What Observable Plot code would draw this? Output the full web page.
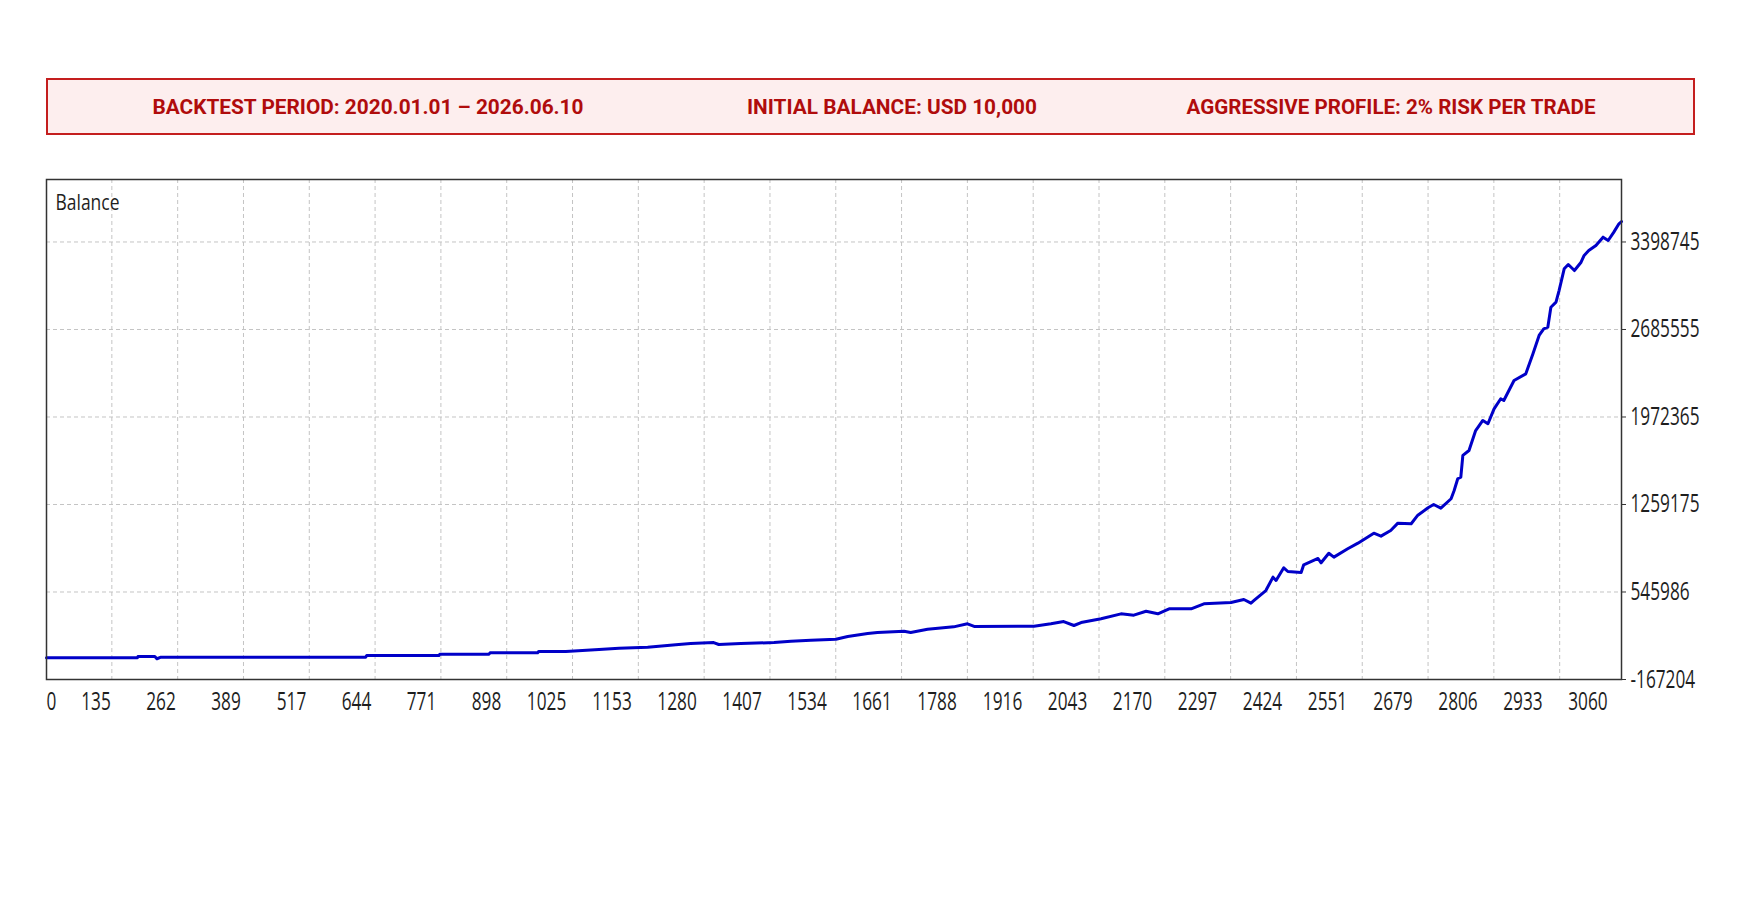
<!DOCTYPE html>
<html><head><meta charset="utf-8">
<script src="https://cdn.jsdelivr.net/npm/d3@7"></script>
<script src="https://cdn.jsdelivr.net/npm/@observablehq/plot@0.6"></script>
<style>
html,body{margin:0;padding:0;background:#fff;width:1747px;height:900px;overflow:hidden;}
#info{position:absolute;left:46px;top:78px;width:1649px;height:57px;box-sizing:border-box;border:2px solid #c41e1e;background:#fdeeee;}
#info span{position:absolute;top:50%;font-family:Roboto,sans-serif;font-weight:700;font-size:20px;color:#b00c0c;white-space:nowrap;transform-origin:center center;}
#chart{position:absolute;left:0;top:150px;}
</style></head><body>
<div id="info"></div>
<div id="chart"></div>
<script>
// Header texts
const headerTexts = ["BACKTEST PERIOD: 2020.01.01 \u2013 2026.06.10", "INITIAL BALANCE: USD 10,000", "AGGRESSIVE PROFILE: 2% RISK PER TRADE"];

// Balance curve: trade number and balance
const trades = [0,187,188,221,225,233,633,635,776,778,874,876,969,971,1024,1089,1128,1184,1239,1268,1313,1323,1366,1431,1464,1503,1552,1575,1614,1633,1685,1698,1731,1782,1809,1822,1939,1972,1997,2017,2031,2070,2109,2134,2158,2181,2203,2246,2271,2324,2349,2363,2369,2392,2406,2412,2427,2435,2461,2466,2494,2500,2515,2525,2552,2572,2603,2617,2636,2650,2676,2689,2709,2720,2734,2754,2760,2767,2773,2777,2789,2802,2816,2826,2838,2851,2857,2877,2900,2914,2926,2935,2943,2949,2959,2965,2975,2983,2995,3008,3014,3023,3037,3051,3061,3072,3082,3087];
const balances = [10000,10000,20000,20000,2000,15000,15000,28000,28000,39000,39000,50000,50000,61000,61000,77000,88000,96000,116000,126000,134000,118000,126000,134000,145000,153000,161000,183000,208000,216000,226000,216000,243000,262000,287000,265000,267000,287000,305000,273000,297000,328000,368000,357000,389000,368000,409000,409000,450000,460000,485000,455000,477000,558000,667000,640000,743000,713000,705000,768000,819000,784000,862000,830000,898000,944000,1025000,1001000,1047000,1107000,1102000,1172000,1232000,1259000,1229000,1306000,1373000,1469000,1482000,1659000,1699000,1862000,1944000,1917000,2039000,2121000,2107000,2270000,2324000,2487000,2637000,2691000,2704000,2867000,2908000,3003000,3180000,3215000,3166000,3234000,3289000,3329000,3370000,3438000,3411000,3479000,3547000,3565000];

// Axis ticks
const xTicks = [0,135,262,389,517,644,771,898,1025,1153,1280,1407,1534,1661,1788,1916,2043,2170,2297,2424,2551,2679,2806,2933,3060];
const yTicks = [-167204,545986,1259175,1972365,2685555,3398745];
const xDomain = [9.3, 3087];
const yDomain = [-167204, 3908000];
const gridX = d3.range(137, 3087, 128.6);
const panelLabel = "Balance";

// Header
const info = document.getElementById("info");
const headerCenters = [320, 844, 1343];
const headerWidths = [431, 290, 409];
headerTexts.forEach((t, i) => {
  const s = document.createElement("span");
  s.textContent = t;
  s.style.left = headerCenters[i] + "px";
  info.appendChild(s);
  const w = s.getBoundingClientRect().width;
  const k = w > 50 ? headerWidths[i] / w : 1;
  s.style.transform = `translate(-50%,-50%) scaleX(${k})`;
});

const data = trades.map((t, i) => ({trade: t, balance: balances[i]}));

const plot = Plot.plot({
  width: 1747, height: 600,
  marginTop: 29, marginBottom: 71, marginLeft: 46, marginRight: 126,
  style: {fontFamily: "'Open Sans', sans-serif", fontSize: "25px", color: "#1e1e1e", background: "transparent", overflow: "visible"},
  x: {domain: xDomain, clamp: true, axis: null, label: null},
  y: {domain: yDomain, axis: null, label: null},
  marks: [
    Plot.gridX(gridX, {stroke: "#c4c4c4", strokeOpacity: 1, strokeWidth: 1, strokeDasharray: "4,3"}),
    Plot.gridY(yTicks, {stroke: "#c4c4c4", strokeOpacity: 1, strokeWidth: 1, strokeDasharray: "4,3"}),
    Plot.line(data, {x: "trade", y: "balance", stroke: "#0000c8", strokeWidth: 3, strokeLinejoin: "round"}),
    Plot.frame({stroke: "#333", strokeWidth: 1.5}),
    Plot.axisY(yTicks, {anchor: "right", tickSize: 4, tickPadding: 5, tickFormat: d => String(d), stroke: "#333", label: null}),
    Plot.text(xTicks.slice(1), {x: d => d, text: d => String(d), frameAnchor: "bottom", lineAnchor: "top", textAnchor: "end", dy: 13}),
    Plot.text(xTicks.slice(0, 1), {x: d => d, text: d => String(d), frameAnchor: "bottom", lineAnchor: "top", textAnchor: "start", dy: 13}),
    Plot.text([panelLabel], {text: d => d, frameAnchor: "top-left", lineAnchor: "top", textAnchor: "start", dx: 9, dy: 16, fontSize: 21})
  ]
});
document.getElementById("chart").appendChild(plot);

// Condense tick text horizontally to match the narrow chart font
const texts = Array.from(plot.querySelectorAll("text"));
function measure(t) {
  let w = 0;
  try { w = t.getComputedTextLength(); } catch (e) {}
  if (!(w > 5)) { try { w = t.getBBox().width; } catch (e) {} }
  return w;
}
const ref = texts.find(t => t.textContent === "3398745");
const bal = texts.find(t => t.textContent === panelLabel);
let sNum = ref ? 69 / measure(ref) : NaN;
let sBal = bal ? 64 / measure(bal) : NaN;
if (!(isFinite(sNum) && sNum > 0.3 && sNum < 1.5)) sNum = 0.69;
if (!(isFinite(sBal) && sBal > 0.3 && sBal < 1.5)) sBal = 0.83;
texts.forEach(t => {
  const s = t.textContent === panelLabel ? sBal : sNum;
  let tr = t.getAttribute("transform") || "";
  const xa = t.getAttribute("x");
  if (xa !== null && isFinite(+xa)) {
    tr += ` translate(${+xa},0)`;
    t.removeAttribute("x");
  }
  t.setAttribute("transform", `${tr} scale(${s.toFixed(4)},1)`);
});
</script>
</body></html>
